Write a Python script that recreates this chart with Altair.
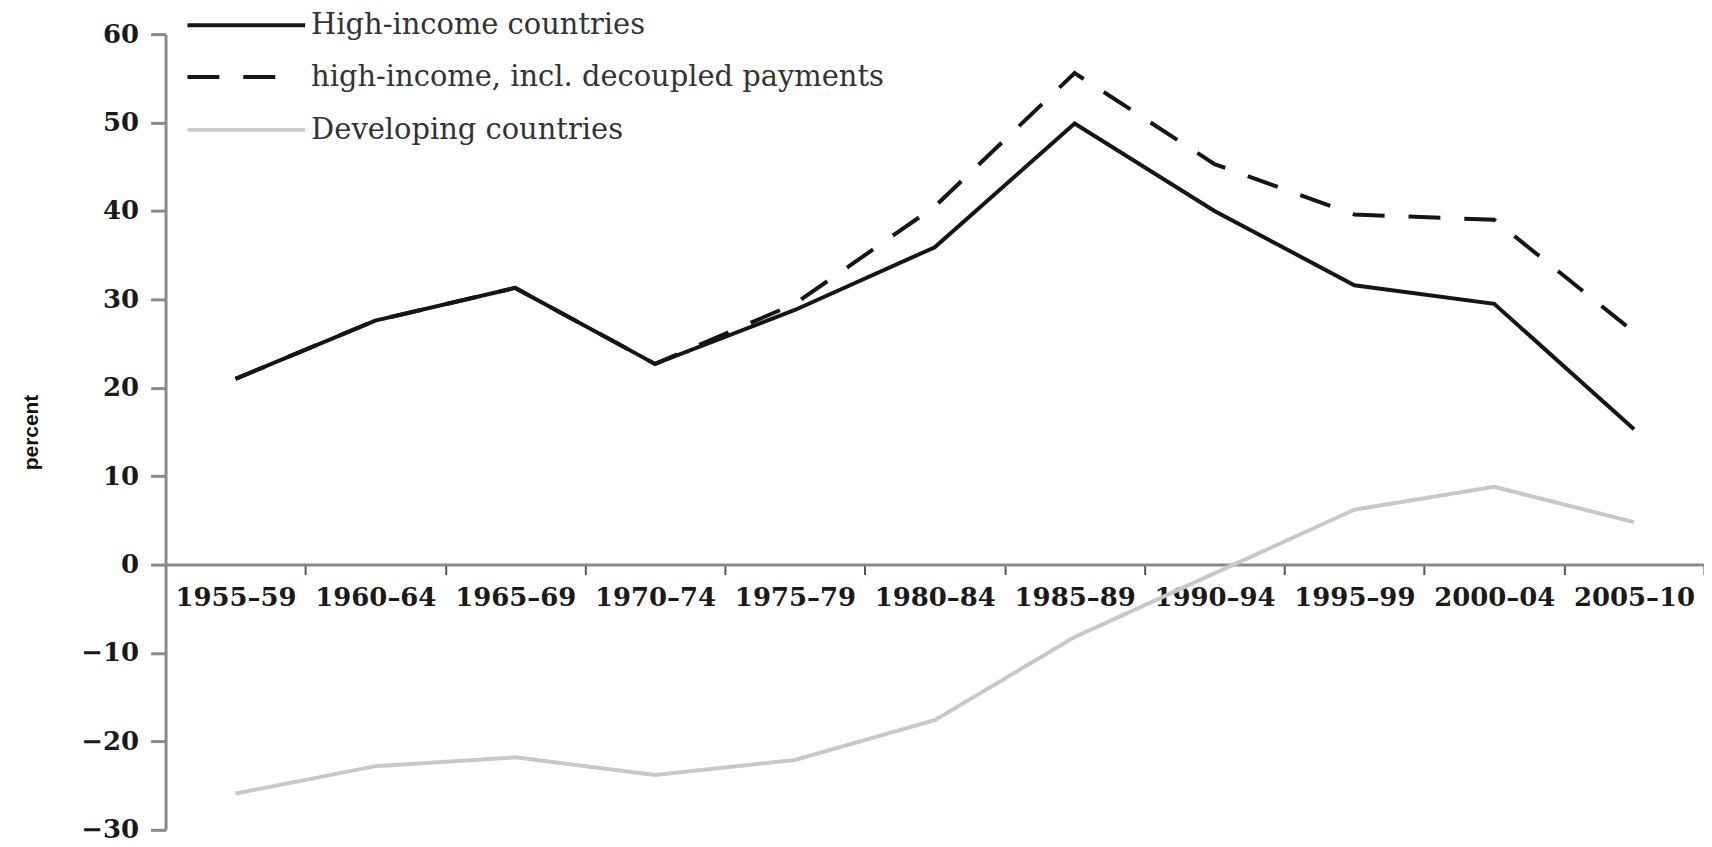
import altair as alt
import pandas as pd

periods = ["1955–59", "1960–64", "1965–69", "1970–74", "1975–79", "1980–84",
           "1985–89", "1990–94", "1995–99", "2000–04", "2005–10"]
high_income = [21.0, 27.6, 31.3, 22.7, 28.8, 35.9, 49.9, 40.0, 31.6, 29.5, 15.3]
high_income_decoupled = [21.0, 27.6, 31.3, 22.7, 29.5, 40.5, 55.6, 45.3, 39.6, 39.0, 26.3]
developing = [-25.9, -22.8, -21.8, -23.8, -22.1, -17.6, -8.2, -1.0, 6.2, 8.8, 4.8]
series_names = ["High-income countries", "high-income, incl. decoupled payments",
                "Developing countries"]
y_ticks = list(range(-30, 61, 10))

W, H = 1543, 798
Y_MIN, Y_MAX = -30, 60
zero_from_bottom = H * (0 - Y_MIN) / (Y_MAX - Y_MIN)

df_hi = pd.DataFrame({"period": periods, "value": high_income})
df_dec = pd.DataFrame({"period": periods, "value": high_income_decoupled})
df_dev = pd.DataFrame({"period": periods, "value": developing})

x_enc = alt.X(
    "period:N", sort=periods, title=None,
    scale=alt.Scale(type="band", paddingInner=0, paddingOuter=0),
    axis=alt.Axis(
        orient="bottom", offset=-zero_from_bottom, tickBand="extent",
        domainColor="#8a8a8a", domainWidth=3, tickColor="#555555", tickWidth=2,
        tickSize=10, labelAngle=0, labelFont="DejaVu Serif", labelFontWeight="bold",
        labelFontSize=26, labelColor="#1a1a1a", labelPadding=10, labelBaseline="top",
        grid=False,
    ),
)
y_enc = alt.Y(
    "value:Q", title="percent",
    scale=alt.Scale(domain=[Y_MIN, Y_MAX], nice=False, zero=False),
    axis=alt.Axis(
        values=y_ticks, domainColor="#8a8a8a", domainWidth=3, tickColor="#8a8a8a",
        tickWidth=3, tickSize=15, labelFont="DejaVu Serif", labelFontWeight="bold",
        labelFontSize=26, labelColor="#1a1a1a", labelPadding=12, grid=False,
        titleFont="Liberation Sans Narrow, Liberation Sans, sans-serif",
        titleFontSize=21, titleFontWeight="bold", titleColor="#111111",
        titleAngle=270, titleX=-134, titleY=H / 2, titleAlign="center",
        titleBaseline="middle",
    ),
)

line_dev = alt.Chart(df_dev).mark_line(color="#c8c8c8", strokeWidth=4).encode(x=x_enc, y=y_enc)
line_dec = alt.Chart(df_dec).mark_line(color="#151515", strokeWidth=4,
                                       strokeDash=[32, 24]).encode(x=x_enc, y=y_enc)
line_hi = alt.Chart(df_hi).mark_line(color="#151515", strokeWidth=4).encode(x=x_enc, y=y_enc)

# legend (manual, top-left)
styles = [
    {"color": "#151515", "dash": [1, 0], "end": 140},
    {"color": "#151515", "dash": [32, 24], "end": 134},
    {"color": "#cccccc", "dash": [1, 0], "end": 140},
]
row_y = [-9, 43, 96]
legend_layers = []
for name, st, ry in zip(series_names, styles, row_y):
    ldf = pd.DataFrame({"label": [name]})
    legend_layers.append(
        alt.Chart(ldf).mark_rule(color=st["color"], strokeWidth=4,
                                 strokeDash=st["dash"]).encode(
            x=alt.value(22), x2=alt.value(st["end"]), y=alt.value(ry))
    )
    legend_layers.append(
        alt.Chart(ldf).mark_text(align="left", baseline="middle", font="DejaVu Serif",
                                 fontSize=29, color="#333333").encode(
            text="label:N", x=alt.value(146), y=alt.value(ry))
    )

chart = alt.layer(line_dev, line_dec, line_hi, *legend_layers).properties(
    width=W, height=H,
    background="white",
    autosize=alt.AutoSizeParams(type="none"),
    padding={"left": 158, "top": 25, "right": 0, "bottom": 15},
).configure_view(stroke=None)

chart.save("out.html", embed_options={"renderer": "svg", "actions": False})
